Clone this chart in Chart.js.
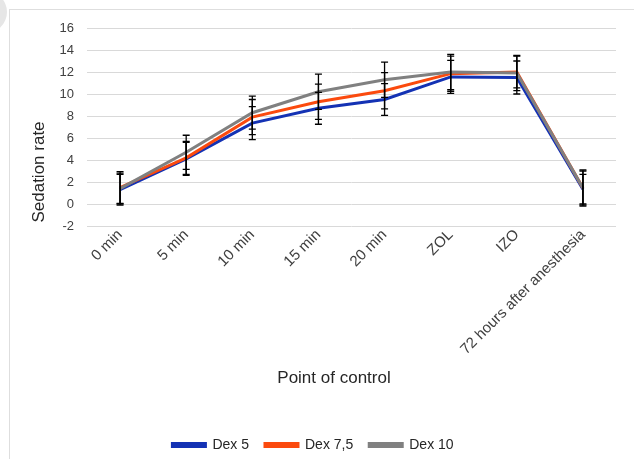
<!DOCTYPE html>
<html>
<head>
<meta charset="utf-8">
<script src="https://cdn.jsdelivr.net/npm/chart.js@4.4.1/dist/chart.umd.min.js"></script>
<style>
  html, body { margin: 0; padding: 0; background: #fff; }
  #wrap { position: relative; width: 634px; height: 459px; overflow: hidden; }
  #frame { position: absolute; left: 9px; top: 9px; width: 700px; height: 500px;
           border-top: 1px solid #dedede; border-left: 1px solid #dedede; }
  #blob { position: absolute; left: -35px; top: -9px; width: 42px; height: 42px;
          border-radius: 50%; background: #e6e6e6; }
</style>
</head>
<body>
<div id="wrap">
  <div id="frame"></div>
  <div id="blob"></div>
  <canvas id="chart" width="634" height="459"></canvas>
</div>
<script>
'use strict';

// categories and series
const points = ['0 min', '5 min', '10 min', '15 min', '20 min', 'ZOL', 'IZO', '72 hours after anesthesia'];
const dex5 = [1.3, 4.1, 7.35, 8.7, 9.5, 11.55, 11.5, 1.35];
const dex75 = [1.5, 4.2, 7.9, 9.3, 10.3, 11.85, 12.0, 1.45];
const dex10 = [1.4, 4.7, 8.3, 10.2, 11.3, 12.0, 11.9, 1.45];
// error bar half-widths
const err5 = [1.4, 1.5, 1.5, 1.45, 1.45, 1.5, 1.5, 1.35];
const err75 = [1.45, 1.5, 1.6, 1.6, 1.65, 1.6, 1.45, 1.55];
const err10 = [1.4, 1.55, 1.5, 1.6, 1.6, 1.6, 1.6, 1.65];
const yTicks = [-2, 0, 2, 4, 6, 8, 10, 12, 14, 16];

const FONT = "'Liberation Sans', Arial, sans-serif";

// black error bars, drawn through the y scale
const errorBars = {
  id: 'errorBars',
  afterDatasetsDraw(chart) {
    const c = chart.ctx;
    const y = chart.scales.y;
    c.save();
    c.strokeStyle = '#000';
    c.lineWidth = 1.3;
    chart.data.datasets.forEach((ds, i) => {
      const meta = chart.getDatasetMeta(i);
      meta.data.forEach((pt, j) => {
        const top = y.getPixelForValue(ds.data[j] + ds.errors[j]);
        const bot = y.getPixelForValue(ds.data[j] - ds.errors[j]);
        c.beginPath();
        c.moveTo(pt.x, top); c.lineTo(pt.x, bot);
        c.moveTo(pt.x - 3.5, top); c.lineTo(pt.x + 3.5, top);
        c.moveTo(pt.x - 3.5, bot); c.lineTo(pt.x + 3.5, bot);
        c.stroke();
      });
    });
    c.restore();
  }
};

// axis titles, placed like the original
const axisTitles = {
  id: 'axisTitles',
  afterDraw(chart) {
    const c = chart.ctx;
    c.save();
    c.fillStyle = '#262626';
    c.font = '17px ' + FONT;
    c.textAlign = 'center';
    c.textBaseline = 'middle';
    c.fillText('Point of control', 334, 378);
    c.translate(39, 172);
    c.rotate(-Math.PI / 2);
    c.fillText('Sedation rate', 0, 0);
    c.restore();
  }
};

new Chart(document.getElementById('chart'), {
  type: 'line',
  data: {
    labels: points,
    datasets: [
      { label: 'Dex 5', data: dex5, errors: err5, borderColor: '#1432b4', backgroundColor: '#1432b4', order: 2 },
      { label: 'Dex 7,5', data: dex75, errors: err75, borderColor: '#fb4a0e', backgroundColor: '#fb4a0e', order: 1 },
      { label: 'Dex 10', data: dex10, errors: err10, borderColor: '#808080', backgroundColor: '#808080', order: 0 }
    ]
  },
  options: {
    responsive: false,
    animation: false,
    layout: { padding: { left: 10, right: 18, top: 28, bottom: -3 } },
    elements: {
      line: { borderWidth: 3, tension: 0 },
      point: { radius: 0, hoverRadius: 0 }
    },
    scales: {
      x: {
        offset: true,
        grid: { display: false, drawTicks: false },
        border: { display: false },
        ticks: {
          color: '#404040', font: { family: FONT, size: 15 },
          minRotation: 45, maxRotation: 45, padding: 0, autoSkip: false
        },
        afterFit(scale) { scale.height = 196; }
      },
      y: {
        min: -2, max: 16,
        grid: { color: '#d9d9d9', lineWidth: 1, drawTicks: false },
        border: { display: false },
        afterBuildTicks(scale) { scale.ticks = yTicks.map(v => ({ value: v })); },
        ticks: { color: '#404040', font: { family: FONT, size: 13 }, padding: 13 },
        afterFit(scale) { scale.width = 77; }
      }
    },
    plugins: {
      legend: {
        position: 'bottom',
        labels: {
          boxWidth: 33, boxHeight: 3, padding: 16,
          color: '#262626', font: { family: FONT, size: 14 },
          sort: (a, b) => a.datasetIndex - b.datasetIndex
        }
      },
      tooltip: { enabled: false }
    }
  },
  plugins: [errorBars, axisTitles]
});
</script>
</body>
</html>
